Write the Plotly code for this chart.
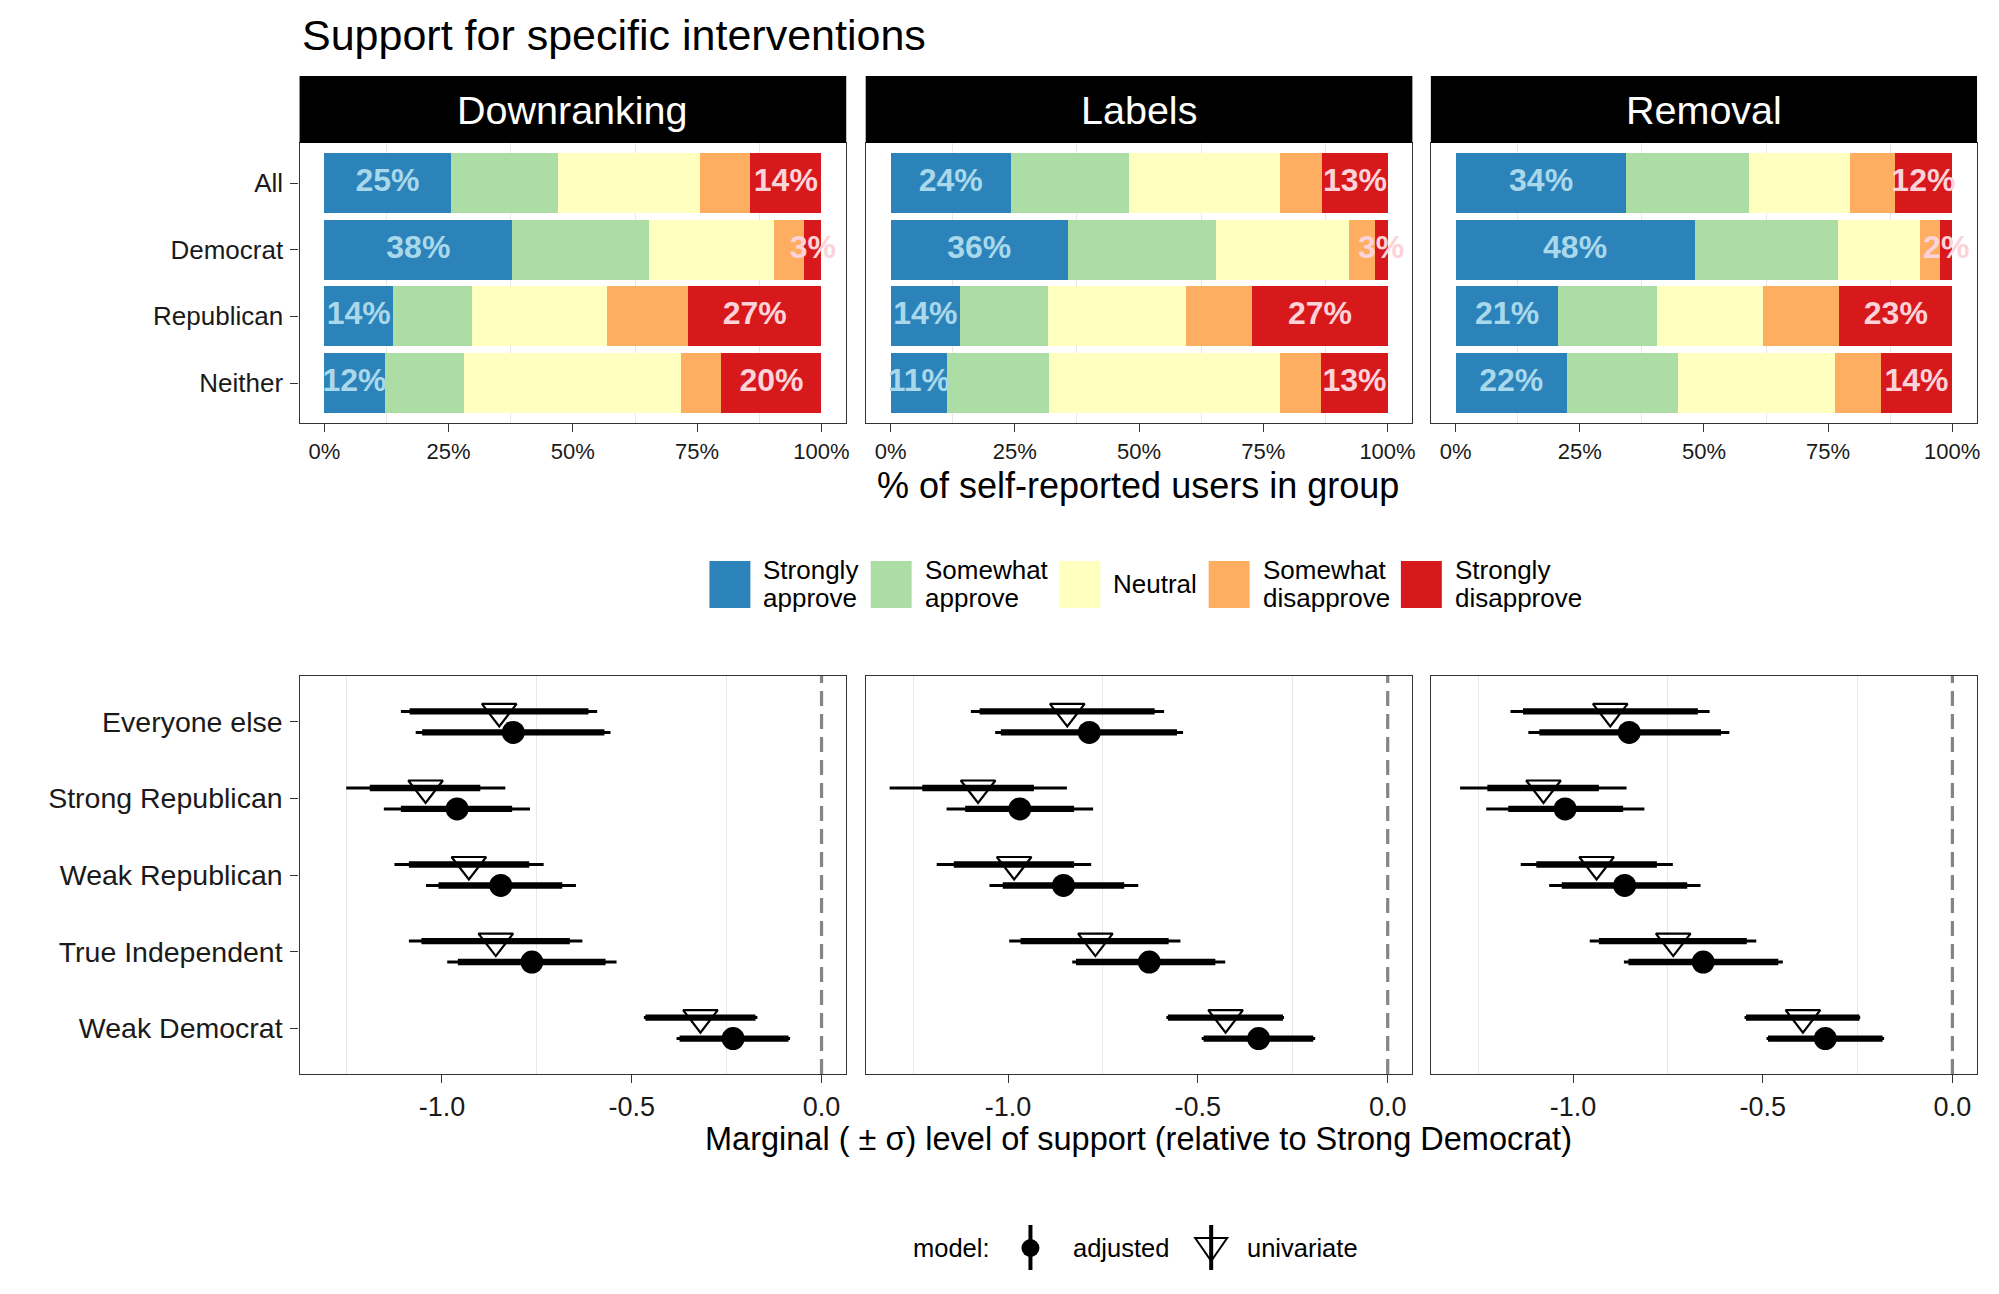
import plotly.graph_objects as go

W, H = 1999, 1294
FONT = "Liberation Sans, Arial, Helvetica, sans-serif"

# ---------------- data: top (stacked shares, %) ----------------
panels = ["Downranking", "Labels", "Removal"]
groups = ["All", "Democrat", "Republican", "Neither"]
responses = ["Strongly approve", "Somewhat approve", "Neutral",
             "Somewhat disapprove", "Strongly disapprove"]
legend_labels = ["Strongly\napprove", "Somewhat\napprove", "Neutral",
                 "Somewhat\ndisapprove", "Strongly\ndisapprove"]
colors = ["#2b83ba", "#abdda4", "#ffffbf", "#fdae61", "#d7191c"]

down_strongly_approve = [25.4, 37.8, 13.8, 12.1]
down_somewhat_approve = [21.6, 27.5, 15.9, 16.0]
down_neutral = [28.5, 25.1, 27.2, 43.7]
down_somewhat_disapprove = [10.2, 6.2, 16.3, 8.1]
down_strongly_disapprove = [14.3, 3.4, 26.8, 20.1]

labels_strongly_approve = [24.2, 35.7, 14.0, 11.4]
labels_somewhat_approve = [23.8, 29.7, 17.6, 20.5]
labels_neutral = [30.3, 26.8, 27.9, 46.4]
labels_somewhat_disapprove = [8.6, 5.2, 13.3, 8.4]
labels_strongly_disapprove = [13.1, 2.6, 27.2, 13.3]

removal_strongly_approve = [34.4, 48.1, 20.7, 22.4]
removal_somewhat_approve = [24.7, 28.9, 19.9, 22.4]
removal_neutral = [20.3, 16.6, 21.3, 31.5]
removal_somewhat_disapprove = [9.0, 4.0, 15.4, 9.3]
removal_strongly_disapprove = [11.6, 2.4, 22.7, 14.4]

top_ticks = [0, 25, 50, 75, 100]
top_tick_labels = ["0%", "25%", "50%", "75%", "100%"]

# ---------------- data: bottom (marginal support) ----------------
parties = ["Everyone else", "Strong Republican", "Weak Republican",
           "True Independent", "Weak Democrat"]
models = ["adjusted", "univariate"]

down_univ_est = [-0.849, -1.043, -0.929, -0.858, -0.319]
down_univ_in_lo = [-1.085, -1.190, -1.087, -1.054, -0.464]
down_univ_in_hi = [-0.614, -0.899, -0.770, -0.663, -0.174]
down_univ_out_lo = [-1.108, -1.252, -1.125, -1.087, -0.468]
down_univ_out_hi = [-0.591, -0.833, -0.732, -0.630, -0.169]
down_adj_est = [-0.812, -0.960, -0.845, -0.763, -0.233]
down_adj_in_lo = [-1.052, -1.108, -1.009, -0.958, -0.374]
down_adj_in_hi = [-0.572, -0.815, -0.683, -0.569, -0.087]
down_adj_out_lo = [-1.069, -1.153, -1.042, -0.986, -0.382]
down_adj_out_hi = [-0.556, -0.768, -0.647, -0.540, -0.083]

labels_univ_est = [-0.844, -1.079, -0.984, -0.770, -0.427]
labels_univ_in_lo = [-1.075, -1.226, -1.143, -0.967, -0.579]
labels_univ_in_hi = [-0.614, -0.932, -0.826, -0.577, -0.276]
labels_univ_out_lo = [-1.098, -1.312, -1.188, -0.997, -0.583]
labels_univ_out_hi = [-0.589, -0.845, -0.781, -0.546, -0.273]
labels_adj_est = [-0.786, -0.969, -0.854, -0.628, -0.340]
labels_adj_in_lo = [-1.019, -1.113, -1.014, -0.821, -0.485]
labels_adj_in_hi = [-0.555, -0.826, -0.694, -0.454, -0.196]
labels_adj_out_lo = [-1.034, -1.162, -1.049, -0.831, -0.490]
labels_adj_out_hi = [-0.539, -0.776, -0.657, -0.428, -0.191]

removal_univ_est = [-0.902, -1.078, -0.938, -0.736, -0.394]
removal_univ_in_lo = [-1.132, -1.226, -1.097, -0.932, -0.544]
removal_univ_in_hi = [-0.671, -0.932, -0.779, -0.542, -0.245]
removal_univ_out_lo = [-1.165, -1.298, -1.138, -0.956, -0.548]
removal_univ_out_hi = [-0.640, -0.859, -0.737, -0.517, -0.243]
removal_adj_est = [-0.852, -1.021, -0.864, -0.657, -0.335]
removal_adj_in_lo = [-1.089, -1.171, -1.030, -0.854, -0.486]
removal_adj_in_hi = [-0.610, -0.868, -0.699, -0.459, -0.184]
removal_adj_out_lo = [-1.118, -1.229, -1.063, -0.866, -0.490]
removal_adj_out_hi = [-0.588, -0.812, -0.664, -0.447, -0.180]

bottom_ticks = [-1.0, -0.5, 0.0]
bottom_tick_labels = ["-1.0", "-0.5", "0.0"]

# ---------------- assemble ----------------
top_data = {
    "Downranking": [down_strongly_approve, down_somewhat_approve, down_neutral,
                    down_somewhat_disapprove, down_strongly_disapprove],
    "Labels": [labels_strongly_approve, labels_somewhat_approve, labels_neutral,
               labels_somewhat_disapprove, labels_strongly_disapprove],
    "Removal": [removal_strongly_approve, removal_somewhat_approve, removal_neutral,
                removal_somewhat_disapprove, removal_strongly_disapprove],
}
bottom_data = {
    "Downranking": {
        "univariate": (down_univ_est, down_univ_in_lo, down_univ_in_hi, down_univ_out_lo, down_univ_out_hi),
        "adjusted": (down_adj_est, down_adj_in_lo, down_adj_in_hi, down_adj_out_lo, down_adj_out_hi)},
    "Labels": {
        "univariate": (labels_univ_est, labels_univ_in_lo, labels_univ_in_hi, labels_univ_out_lo, labels_univ_out_hi),
        "adjusted": (labels_adj_est, labels_adj_in_lo, labels_adj_in_hi, labels_adj_out_lo, labels_adj_out_hi)},
    "Removal": {
        "univariate": (removal_univ_est, removal_univ_in_lo, removal_univ_in_hi, removal_univ_out_lo, removal_univ_out_hi),
        "adjusted": (removal_adj_est, removal_adj_in_lo, removal_adj_in_hi, removal_adj_out_lo, removal_adj_out_hi)},
}


def fx(p):
    return p / W


def fy(p):
    return 1 - p / H


XDOM = [(300, 847.5), (867, 1414.5), (1433, 1980)]
TOP_Y = (143, 423)
BOT_Y = (676, 1074)

fig = go.Figure()
layout = dict(
    width=W, height=H, margin=dict(l=0, r=0, t=0, b=0),
    paper_bgcolor="white", plot_bgcolor="white",
    barmode="stack", showlegend=False,
    font=dict(family=FONT, color="#1a1a1a"),
)

AX = dict(showline=True, mirror=True, linecolor="#333333", linewidth=1.4,
          zeroline=False, showgrid=False, ticks="outside", ticklen=8,
          tickwidth=1.4, tickcolor="#333333", fixedrange=True)

n_top = len(groups)
top_pos = [n_top - i for i in range(n_top)]
n_bot = len(parties)
bot_pos = [n_bot - i for i in range(n_bot)]
dodge = {"univariate": 0.137, "adjusted": -0.137}

shapes = []
annotations = []

for k, panel in enumerate(panels):
    # ---- top subplot ----
    ti = k + 1
    xa, ya = f"x{ti}", f"y{ti}"
    xname = "xaxis" if ti == 1 else f"xaxis{ti}"
    yname = "yaxis" if ti == 1 else f"yaxis{ti}"
    layout[xname] = dict(AX, domain=[fx(XDOM[k][0]), fx(XDOM[k][1])], anchor=ya,
                         range=[-5, 105], tickmode="array", tickvals=top_ticks,
                         ticktext=top_tick_labels, tickfont=dict(size=22, color="#1a1a1a"),
                         minor=dict(tickmode="array", tickvals=[12.5, 37.5, 62.5, 87.5],
                                    showgrid=True, gridcolor="#e8e8e8", gridwidth=1.3, ticks=""))
    layout[yname] = dict(AX, domain=[fy(TOP_Y[1]), fy(TOP_Y[0])], anchor=xa,
                         range=[0.4, n_top + 0.6], tickmode="array", tickvals=top_pos,
                         ticktext=groups if k == 0 else [""] * n_top,
                         ticks="outside" if k == 0 else "",
                         showticklabels=(k == 0), ticklabelstandoff=2,
                         tickfont=dict(size=26, color="#1a1a1a"))
    series = top_data[panel]
    cum = [0.0] * n_top
    for r, vals in enumerate(series):
        fig.add_trace(go.Bar(x=vals, y=top_pos, orientation="h", width=0.9,
                             marker=dict(color=colors[r], line=dict(width=0)),
                             xaxis=xa, yaxis=ya, hoverinfo="skip", name=responses[r]))
        centers = [c + v / 2 for c, v in zip(cum, vals)]
        if r == 0 or r == len(series) - 1:
            fig.add_trace(go.Scatter(
                x=centers, y=top_pos, mode="text",
                text=[f"{round(v)}%" for v in vals],
                textfont=dict(family=FONT, size=32, weight="bold",
                              color="#a9d8ea" if r == 0 else "#fbd3d9"),
                cliponaxis=False, xaxis=xa, yaxis=ya, hoverinfo="skip"))
        cum = [c + v for c, v in zip(cum, vals)]

    # strip
    shapes.append(dict(type="rect", xref="paper", yref="paper",
                       x0=fx(XDOM[k][0]), x1=fx(XDOM[k][1]), y0=fy(TOP_Y[0]), y1=fy(76),
                       fillcolor="black", line=dict(width=0), layer="above"))
    annotations.append(dict(text=panel, xref="paper", yref="paper",
                            x=fx((XDOM[k][0] + XDOM[k][1]) / 2), y=fy(110),
                            xanchor="center", yanchor="middle", showarrow=False,
                            font=dict(size=39.5, color="white", family=FONT)))

    # ---- bottom subplot ----
    bi = k + 4
    xb, yb = f"x{bi}", f"y{bi}"
    layout[f"xaxis{bi}"] = dict(AX, domain=[fx(XDOM[k][0]), fx(XDOM[k][1])], anchor=yb,
                                range=[-1.375, 0.065], tickmode="array", tickvals=bottom_ticks,
                                ticktext=bottom_tick_labels,
                                tickfont=dict(size=27, color="#1a1a1a"),
                                minor=dict(tickmode="array", tickvals=[-1.25, -0.75, -0.25],
                                           showgrid=True, gridcolor="#e8e8e8", gridwidth=1.3,
                                           ticks=""))
    layout[f"yaxis{bi}"] = dict(AX, domain=[fy(BOT_Y[1]), fy(BOT_Y[0])], anchor=xb,
                                range=[0.4, n_bot + 0.6], tickmode="array", tickvals=bot_pos,
                                ticktext=parties if k == 0 else [""] * n_bot,
                                ticks="outside" if k == 0 else "",
                                showticklabels=(k == 0), ticklabelstandoff=2,
                                tickfont=dict(size=28.5, color="#1a1a1a"))
    shapes.append(dict(type="line", xref=xb, yref=f"{yb} domain", x0=0, x1=0, y0=0, y1=1,
                       line=dict(color="#858585", width=3.2, dash="15px,8px"), layer="below"))

    for model in ["univariate", "adjusted"]:
        est, in_lo, in_hi, out_lo, out_hi = bottom_data[panel][model]
        ys = [p + dodge[model] for p in bot_pos]
        for lo, hi, wdt in [(out_lo, out_hi, 3.0), (in_lo, in_hi, 6.3)]:
            xs, yy = [], []
            for a, b, y in zip(lo, hi, ys):
                xs += [a, b, None]
                yy += [y, y, None]
            fig.add_trace(go.Scatter(x=xs, y=yy, mode="lines",
                                     line=dict(color="black", width=wdt),
                                     xaxis=xb, yaxis=yb, hoverinfo="skip"))
    for model in ["univariate", "adjusted"]:
        est = bottom_data[panel][model][0]
        ys = [p + dodge[model] for p in bot_pos]
        if model == "adjusted":
            mk = dict(symbol="circle", size=23, color="black", line=dict(width=0))
        else:
            mk = dict(symbol="triangle-down-open", size=30, color="black",
                      line=dict(width=2.2, color="black"))
        fig.add_trace(go.Scatter(x=est, y=ys, mode="markers", marker=mk,
                                 xaxis=xb, yaxis=yb, hoverinfo="skip", cliponaxis=False))

# ---------------- titles ----------------
annotations.append(dict(text="Support for specific interventions", xref="paper", yref="paper",
                        x=fx(300), y=fy(35), xanchor="left", yanchor="middle",
                        showarrow=False, font=dict(size=43, color="black", family=FONT)))
annotations.append(dict(text="% of self-reported users in group", xref="paper", yref="paper",
                        x=fx(1140), y=fy(486), xanchor="center", yanchor="middle",
                        showarrow=False, font=dict(size=36, color="black", family=FONT)))
annotations.append(dict(text="Marginal ( ± σ) level of support (relative to Strong Democrat)",
                        xref="paper", yref="paper", x=fx(1140), y=fy(1139),
                        xanchor="center", yanchor="middle", showarrow=False,
                        font=dict(size=32.5, color="black", family=FONT)))

# ---------------- fill legend (top) ----------------
key_x = [710.5, 872, 1061, 1210.5, 1403]
txt_x = [763, 925, 1114, 1264, 1456]
for r, lab in enumerate(legend_labels):
    shapes.append(dict(type="rect", xref="paper", yref="paper",
                       x0=fx(key_x[r]), x1=fx(key_x[r] + 41), y0=fy(608), y1=fy(561),
                       fillcolor=colors[r], line=dict(width=0)))
    lines = lab.split("\n")
    if len(lines) == 1:
        ys_l = [584]
    else:
        ys_l = [570, 598]
    for line, yl in zip(lines, ys_l):
        annotations.append(dict(text=line, xref="paper", yref="paper", x=fx(txt_x[r]), y=fy(yl),
                                xanchor="left", yanchor="middle", showarrow=False, borderpad=0,
                                font=dict(size=26, color="black", family=FONT)))

# ---------------- model legend (bottom) ----------------
LY = 1248
annotations.append(dict(text="model:", xref="paper", yref="paper", x=fx(912), y=fy(LY),
                        xanchor="left", yanchor="middle", showarrow=False,
                        font=dict(size=25.5, color="black", family=FONT)))
for cx, tx, model in [(1032, 1073, "adjusted"), (1213, 1247, "univariate")]:
    shapes.append(dict(type="line", xref="paper", yref="paper", x0=fx(cx), x1=fx(cx),
                       y0=fy(1225), y1=fy(1270), line=dict(color="black", width=4)))
    if model == "adjusted":
        shapes.append(dict(type="circle", xref="paper", yref="paper",
                           x0=fx(cx - 9), x1=fx(cx + 9), y0=fy(LY + 9), y1=fy(LY - 9),
                           fillcolor="black", line=dict(width=0)))
    else:
        path = (f"M {fx(cx - 16)},{fy(1238)} L {fx(cx + 16)},{fy(1238)} "
                f"L {fx(cx)},{fy(1261)} Z")
        shapes.append(dict(type="path", xref="paper", yref="paper", path=path,
                           line=dict(color="black", width=2)))
    annotations.append(dict(text=model, xref="paper", yref="paper", x=fx(tx), y=fy(LY),
                            xanchor="left", yanchor="middle", showarrow=False,
                            font=dict(size=25.5, color="black", family=FONT)))

layout["shapes"] = shapes
layout["annotations"] = annotations
fig.update_layout(**layout)
fig.write_html("out.html", config={"displayModeBar": False},
               post_script="document.body.style.margin='0';")
